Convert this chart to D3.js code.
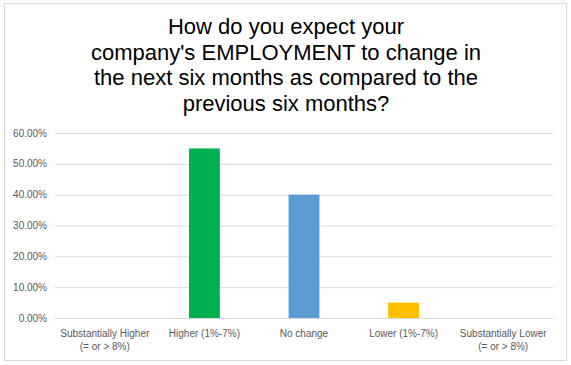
<!DOCTYPE html>
<html>
  <head>
    <script src="https://d3js.org/d3.v7.min.js"></script>
    <style>
      body { margin: 0; background: #fff; }
      #chart { font-family: "Liberation Sans", Arial, sans-serif; }
    </style>
  </head>
  <body>
    <svg id="chart" width="571" height="365"></svg>
    <script>
      // data
      const categories = [
        ["Substantially Higher", "(= or > 8%)"],
        ["Higher (1%-7%)"],
        ["No change"],
        ["Lower (1%-7%)"],
        ["Substantially Lower", "(= or > 8%)"]
      ];
      const values = [0, 0.55, 0.40, 0.05, 0];
      const barColors = ["#4472c4", "#00b050", "#5b9bd5", "#ffc000", "#a5a5a5"];
      const yTicks = [0, 0.1, 0.2, 0.3, 0.4, 0.5, 0.6];
      const titleLines = [
        "How do you expect your",
        "company's EMPLOYMENT to change in",
        "the next six months as compared to the",
        "previous six months?"
      ];

      const svg = d3.select("#chart");
      const margins = {top: 133, right: 18, bottom: 47, left: 55};
      const width = 571 - margins.left - margins.right;
      const height = 365 - margins.top - margins.bottom;

      // outer chart border
      svg.append("rect")
        .attr("x", 4.5).attr("y", 3.5)
        .attr("width", 562).attr("height", 357)
        .attr("fill", "#fff")
        .attr("stroke", "#d9d9d9");

      svg.append("g").selectAll("text").data(titleLines)
        .join("text")
        .attr("x", 286)
        .attr("y", (d, i) => 34 + i * 25.6)
        .attr("text-anchor", "middle")
        .attr("font-size", 22)
        .attr("fill", "#000")
        .text(d => d);

      const g = svg.append("g").attr("transform", `translate(${margins.left},${margins.top})`);

      let x = d3.scaleBand().domain(d3.range(categories.length)).range([0, width]).paddingInner(0.69).paddingOuter(0.345);
      let y = d3.scaleLinear().domain([0, 0.6]).range([height, 0]);

      let leftGridlines = d3.axisLeft(y).tickValues(yTicks).tickSize(-width).tickFormat("");
      g.append("g").call(leftGridlines)
        .call(a => a.select(".domain").remove())
        .selectAll("line").attr("stroke", "#d9d9d9");

      g.selectAll("text.ylab").data(yTicks)
        .join("text")
        .attr("class", "ylab")
        .attr("x", -8)
        .attr("y", d => y(d) + 3.5)
        .attr("text-anchor", "end")
        .attr("font-size", 10)
        .attr("fill", "#595959")
        .text(d => d3.format(".2%")(d));

      g.selectAll("rect.bar").data(values)
        .join("rect")
        .attr("class", "bar")
        .attr("x", (d, i) => x(i))
        .attr("y", d => y(d))
        .attr("width", x.bandwidth())
        .attr("height", d => height - y(d))
        .attr("fill", (d, i) => barColors[i]);

      const xl = g.selectAll("g.xlab").data(categories)
        .join("g")
        .attr("class", "xlab")
        .attr("transform", (d, i) => `translate(${x(i) + x.bandwidth() / 2},${height + 19})`);
      xl.selectAll("text").data(d => d)
        .join("text")
        .attr("y", (d, i) => i * 12.5)
        .attr("text-anchor", "middle")
        .attr("font-size", 10)
        .attr("fill", "#595959")
        .text(d => d);
    </script>
  </body>
</html>
